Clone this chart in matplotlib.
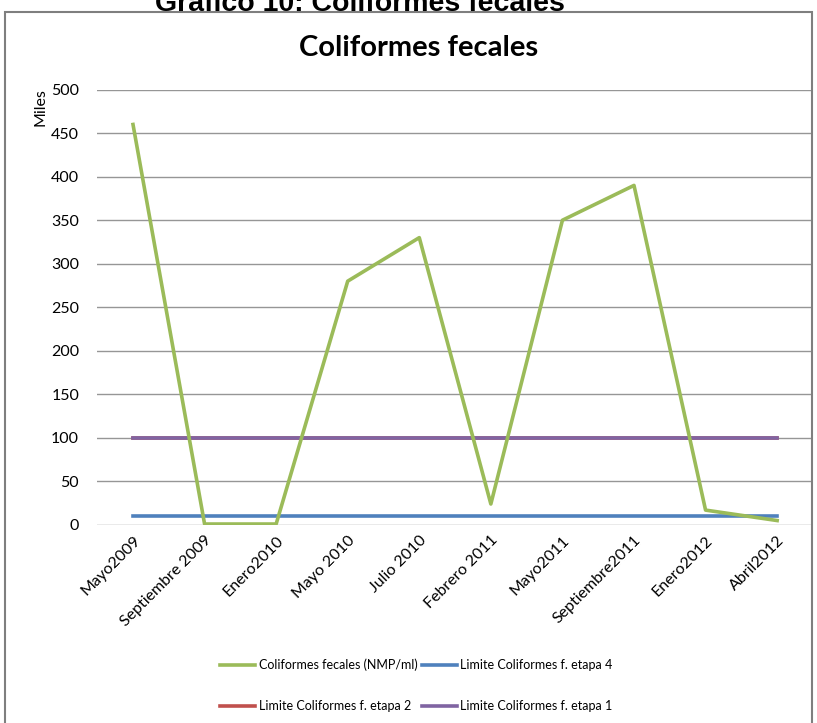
import matplotlib.pyplot as plt
import matplotlib.patches as patches

plt.rcParams['font.family'] = ['Lato', 'DejaVu Sans']

fechas = ['Mayo2009', 'Septiembre 2009', 'Enero2010', 'Mayo 2010', 'Julio 2010',
          'Febrero 2011', 'Mayo2011', 'Septiembre2011', 'Enero2012', 'Abril2012']
coliformes = [460, 1, 1, 280, 330, 24, 350, 390, 17, 5]
limite_etapa4 = [10] * 10
limite_etapa2 = [100] * 10
limite_etapa1 = [100] * 10

fig = plt.figure(figsize=(8.17, 7.23), dpi=100)
ax = fig.add_axes([0.119, 0.274, 0.876, 0.602])

x = range(len(fechas))
l1, = ax.plot(x, coliformes, color='#9BBB59', lw=2.6, label='Coliformes fecales (NMP/ml)', zorder=4)
l2, = ax.plot(x, limite_etapa4, color='#4F81BD', lw=2.6, label='Limite Coliformes f. etapa 4', zorder=3)
l3, = ax.plot(x, limite_etapa2, color='#C0504D', lw=2.6, label='Limite Coliformes f. etapa 2', zorder=2)
l4, = ax.plot(x, limite_etapa1, color='#8064A2', lw=2.6, label='Limite Coliformes f. etapa 1', zorder=3)

ax.set_xlim(-0.5, len(fechas) - 0.5)
ax.set_ylim(0, 500)
ax.set_yticks(range(0, 501, 50))
ax.set_xticks(list(x))
ax.set_xticklabels(fechas, rotation=45, ha='right', rotation_mode='anchor', fontsize=11.5)
ax.tick_params(axis='y', length=0, labelsize=11.5, pad=13)
ax.tick_params(axis='x', length=0, pad=6)
ax.grid(axis='y', color='#969696', lw=1)
ax.set_axisbelow(True)
for s in ax.spines.values():
    s.set_visible(False)

# titulo del grafico centrado sobre el area del grafico
fig.text(0.512, 0.934, 'Coliformes fecales', fontsize=21, fontweight='bold', ha='center', va='center')
fig.text(0.049, 0.852, 'Miles', rotation=90, fontsize=11.5, ha='center', va='center')

# encabezado del documento, cortado por el borde superior como en el original
fig.text(0.44, 0.985, 'Grafico 10: Coliformes fecales', fontsize=20.5, fontweight='bold',
         family=['Liberation Sans', 'DejaVu Sans'], ha='center', va='baseline')

ax.legend([l1, l3, l2, l4], [l1.get_label(), l3.get_label(), l2.get_label(), l4.get_label()],
          ncol=2, frameon=False, fontsize=9, loc='center', bbox_to_anchor=(0.51, 0.052),
          bbox_transform=fig.transFigure, handlelength=2.8, handletextpad=0.3,
          columnspacing=0.3, labelspacing=2.3)

fig.patches.append(patches.Rectangle((0.006, -0.01), 0.988, 0.993, transform=fig.transFigure,
                                     fill=False, edgecolor='#7f7f7f', lw=1.5))

fig.savefig('out.png', dpi=100)
